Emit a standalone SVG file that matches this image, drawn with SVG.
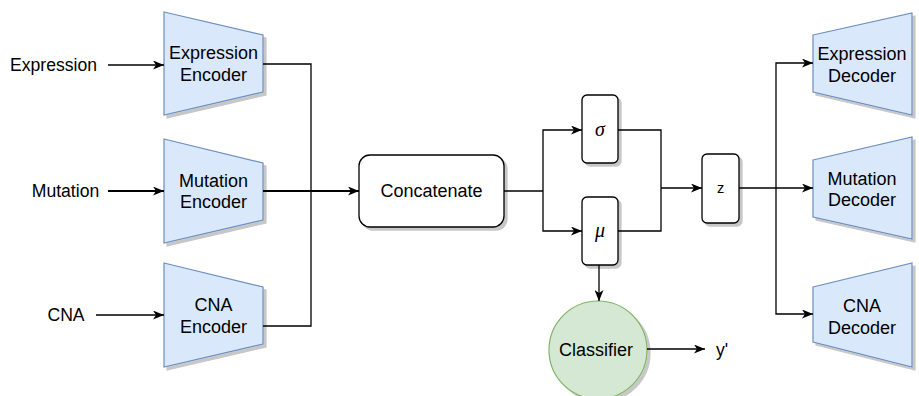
<svg xmlns="http://www.w3.org/2000/svg" width="919" height="396" viewBox="0 0 919 396">
  <style>
    .lbl { font-family: "Liberation Sans", Arial, Helvetica, sans-serif; font-size: 17.6px; fill: #000; text-anchor: middle; }
    .in { font-size: 18px; }
    .math { font-family: "Liberation Serif", "Times New Roman", serif; font-style: italic; font-size: 20px; fill: #000; text-anchor: middle; }
    .small { font-family: "Liberation Sans", Arial, Helvetica, sans-serif; font-size: 14.5px; fill: #000; text-anchor: middle; }
    .coder { fill: #dae8fc; stroke: #6c8ebf; stroke-width: 1.2; }
    .box { fill: #ffffff; stroke: #000; stroke-width: 1.3; }
    .clf { fill: #d5e8d4; stroke: #82b366; stroke-width: 1.2; }
    .wire { fill: none; stroke: #000; stroke-width: 1.3; }
    .wire.bold { stroke-width: 2.2; }
    .arrow { marker-end: url(#head); }
  </style>
  <defs>
    <marker id="head" markerUnits="userSpaceOnUse" viewBox="0 0 11 9" refX="11" refY="4.5" markerWidth="11" markerHeight="9" orient="auto">
      <path d="M0,0 L11,4.5 L0,9 L3,4.5 Z" fill="#000"/>
    </marker>
    <filter id="shadow" x="-10%" y="-10%" width="130%" height="130%">
      <feDropShadow dx="3" dy="3" stdDeviation="0.7" flood-color="#000" flood-opacity="0.22"/>
    </filter>
  </defs>

  <rect width="919" height="396" fill="#ffffff"/>

  <!-- input labels -->
  <g id="in-expression"><text class="lbl" x="53.5" y="71">Expression</text></g>
  <g id="in-mutation"><text class="lbl" x="65.5" y="197">Mutation</text></g>
  <g id="in-cna"><text class="lbl" x="66" y="321">CNA</text></g>

  <!-- encoders -->
  <g id="enc-expression">
    <polygon class="coder" filter="url(#shadow)" points="164,12 263,35 263,92 164,115"/>
    <text class="lbl in" x="213.5" y="59">Expression</text>
    <text class="lbl in" x="213.5" y="80.5">Encoder</text>
  </g>
  <g id="enc-mutation">
    <polygon class="coder" filter="url(#shadow)" points="164,139 263,163 263,220 164,243"/>
    <text class="lbl in" x="213.5" y="186.5">Mutation</text>
    <text class="lbl in" x="213.5" y="208">Encoder</text>
  </g>
  <g id="enc-cna">
    <polygon class="coder" filter="url(#shadow)" points="164,263 263,287 263,344 164,367"/>
    <text class="lbl in" x="213.5" y="311">CNA</text>
    <text class="lbl in" x="213.5" y="333">Encoder</text>
  </g>

  <!-- concatenation -->
  <g id="concat">
    <rect class="box" filter="url(#shadow)" x="359" y="155" width="145" height="72" rx="11"/>
    <text class="lbl in" x="431.5" y="197">Concatenate</text>
  </g>

  <!-- latent parameters -->
  <g id="sigma">
    <rect class="box" filter="url(#shadow)" x="582" y="95" width="36" height="68" rx="5"/>
    <text class="math" x="600" y="135.5">σ</text>
  </g>
  <g id="mu">
    <rect class="box" filter="url(#shadow)" x="582" y="197" width="36" height="68" rx="5"/>
    <text class="math" x="600" y="237">μ</text>
  </g>
  <g id="z">
    <rect class="box" filter="url(#shadow)" x="702" y="154" width="37" height="69" rx="5"/>
    <text class="small" x="720.5" y="193">z</text>
  </g>

  <!-- classifier head -->
  <g id="classifier">
    <circle class="clf" filter="url(#shadow)" cx="598" cy="350" r="49"/>
    <text class="lbl in" x="596" y="355.5">Classifier</text>
  </g>
  <g id="out-y"><text class="lbl" x="722" y="356">y'</text></g>

  <!-- decoders -->
  <g id="dec-expression">
    <polygon class="coder" filter="url(#shadow)" points="813,35 912,13 912,115 813,92"/>
    <text class="lbl in" x="862" y="60">Expression</text>
    <text class="lbl in" x="862" y="82">Decoder</text>
  </g>
  <g id="dec-mutation">
    <polygon class="coder" filter="url(#shadow)" points="813,160 912,137 912,239 813,217"/>
    <text class="lbl in" x="862" y="184.5">Mutation</text>
    <text class="lbl in" x="862" y="206">Decoder</text>
  </g>
  <g id="dec-cna">
    <polygon class="coder" filter="url(#shadow)" points="813,287 912,263 912,367 813,342"/>
    <text class="lbl in" x="862" y="312">CNA</text>
    <text class="lbl in" x="862" y="333.5">Decoder</text>
  </g>

  <!-- connectors -->
  <g id="connectors">
    <path class="wire arrow" d="M108,65 H164"/>
    <path class="wire bold arrow" d="M108,191 H164"/>
    <path class="wire arrow" d="M96,315 H164"/>

    <path class="wire" d="M263,64 H311 V326 H263"/>
    <path class="wire bold arrow" d="M263,191 H359"/>

    <path class="wire" d="M504,191 H543"/>
    <path class="wire arrow" d="M543,191 V130 H582"/>
    <path class="wire arrow" d="M543,191 V231 H582"/>

    <path class="wire" d="M618,130 H661 V231 H618"/>
    <path class="wire arrow" d="M661,188 H702"/>

    <path class="wire arrow" d="M599,265 V301"/>
    <path class="wire arrow" d="M647,349 H705"/>

    <path class="wire arrow" d="M739,188 H813"/>
    <path class="wire arrow" d="M776,188 V63 H813"/>
    <path class="wire arrow" d="M776,188 V314 H813"/>
  </g>
</svg>
